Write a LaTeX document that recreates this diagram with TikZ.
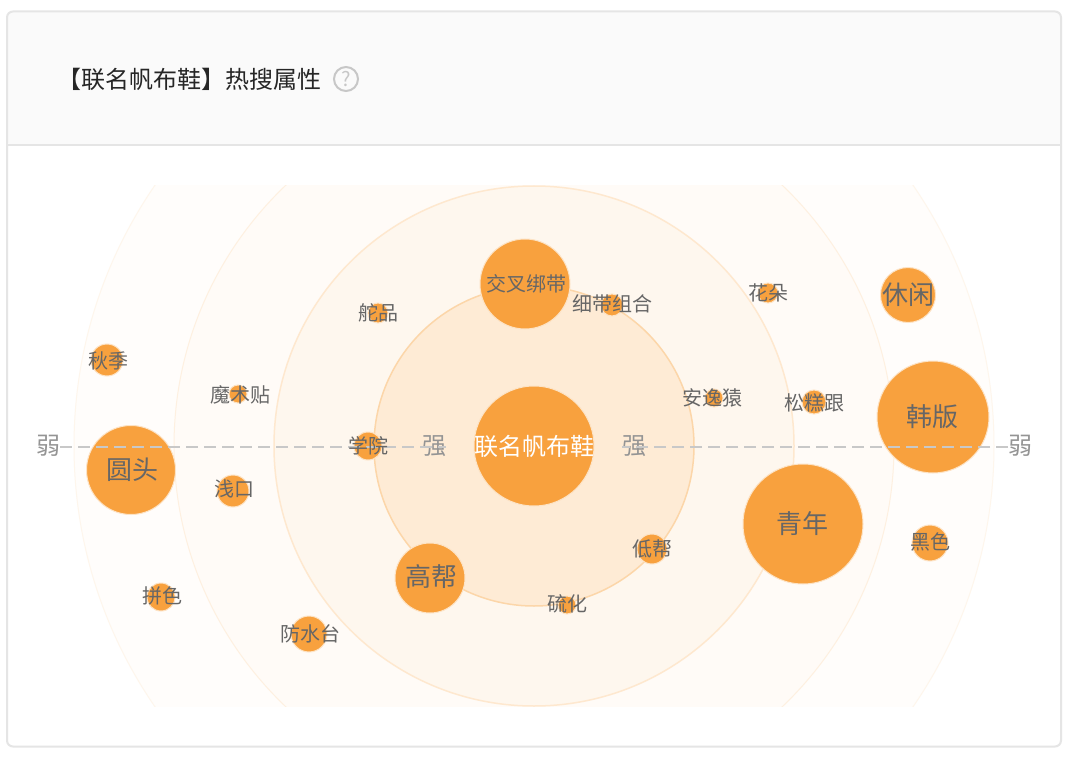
\documentclass[tikz,border=0pt]{standalone}
\usepackage{fontspec}
\usepackage{xcolor}
\setmainfont{Noto Sans CJK SC}
\definecolor{bub}{RGB}{248, 161, 62}
\definecolor{lab}{RGB}{102, 102, 102}
\definecolor{edg}{RGB}{229, 229, 229}
\definecolor{hdr}{RGB}{250, 250, 250}
\definecolor{rng}{RGB}{249, 163, 64}
\definecolor{das}{RGB}{200, 200, 200}
\tikzset{
  bubble/.style={circle, fill=bub, draw=bub!30, line width=1pt, inner sep=0pt, minimum size=#1*2pt},
  word/.style={text=lab, font=\fontsize{20pt}{20pt}\selectfont, inner sep=0pt},
  bigword/.style={text=lab, font=\fontsize{26pt}{26pt}\selectfont, inner sep=0pt},
  axisword/.style={text=lab!70, font=\fontsize{24pt}{24pt}\selectfont, inner sep=0pt},
  px/.style={x=1pt, y=-1pt}
}
\begin{document}
\begin{tikzpicture}[px]
      \useasboundingbox (0, 0) rectangle (1069, 757);
      \fill[white] (0, 0) rectangle (1069, 757);
      \begin{scope}
      \clip (0, 186) rectangle (1069, 706);
      \draw[fill=rng!2, draw=rng!10, line width=1pt] (534, 446) circle (460);
      \draw[fill=rng!4, draw=rng!16, line width=1pt] (534, 446) circle (360);
      \draw[fill=rng!9, draw=rng!25, line width=1.5pt] (534, 446) circle (260);
      \draw[fill=rng!22, draw=rng!45, line width=1.5pt] (534, 446) circle (160);
      \end{scope}
      \fill[hdr] (7, 145) -- (1061, 145) [rounded corners=6] -- (1061, 11.5) -- (7, 11.5) -- cycle;
      \draw[color=edg, line width=2pt, rounded corners=6] (7, 11.5) rectangle (1061, 746.5);
      \draw[color=edg, line width=2pt] (7, 145)--(1061, 145);
      \node[anchor=west, inner sep=0pt, text=black!85, font=\fontsize{24pt}{24pt}\selectfont] (title) at (57, 79) {【联名帆布鞋】热搜属性};
      \node[circle, draw=black!22, line width=2pt, minimum size=24pt, inner sep=0pt, text=black!22, font=\fontsize{20pt}{20pt}\selectfont] (help) at (346, 79) {?};
      \node[bubble=60] (main) at (534, 446) {};
      \node[bubble=45] (b1) at (525, 284) {};
      \node[bubble=11] (b2) at (612, 305) {};
      \node[bubble=10] (b3) at (378, 313) {};
      \node[bubble=10] (b4) at (768, 293) {};
      \node[bubble=27.5] (b5) at (908, 295) {};
      \node[bubble=16] (b6) at (107, 360) {};
      \node[bubble=9] (b7) at (238, 394) {};
      \node[bubble=14] (b8) at (368, 446) {};
      \node[bubble=9] (b9) at (714, 398) {};
      \node[bubble=12] (b10) at (814, 402) {};
      \node[bubble=56] (b11) at (933, 417) {};
      \node[bubble=44.5] (b12) at (131, 470) {};
      \node[bubble=16] (b13) at (233, 491) {};
      \node[bubble=60] (b14) at (803, 524) {};
      \node[bubble=18] (b15) at (930, 543) {};
      \node[bubble=15] (b16) at (652, 549) {};
      \node[bubble=35] (b17) at (430, 578) {};
      \node[bubble=9] (b18) at (567, 605) {};
      \node[bubble=14] (b19) at (161, 597) {};
      \node[bubble=18] (b20) at (309, 634) {};
      \node[axisword] (s1) at (434, 446) {强};
      \node[axisword] (s2) at (634, 446) {强};
      \node[axisword] (w1) at (48, 446) {弱};
      \node[axisword] (w2) at (1020, 446) {弱};
      \coordinate (l1) at (60, 447);
      \coordinate (l2) at (446, 447);
      \coordinate (r1) at (1008, 447);
      \coordinate (r2) at (622, 447);
      \draw[color=das, line width=2.7pt, dash pattern=on 12pt off 6pt] (l1)--(l2);
      \draw[color=das, line width=2.7pt, dash pattern=on 12pt off 6pt] (r1)--(r2);
      \node[text=white, inner sep=0pt, font=\fontsize{24pt}{24pt}\selectfont] (t0) at (534, 446) {联名帆布鞋};
      \node[word] (t1) at (526, 284) {交叉绑带};
      \node[word] (t2) at (612, 304) {细带组合};
      \node[word] (t3) at (378, 313) {舵品};
      \node[word] (t4) at (768, 293) {花朵};
      \node[bigword] (t5) at (908, 295) {休闲};
      \node[word] (t6) at (108, 361) {秋季};
      \node[word] (t7) at (240, 395) {魔术贴};
      \node[word] (t8) at (368, 446) {学院};
      \node[word] (t9) at (712, 398) {安逸猿};
      \node[word] (t10) at (814, 403) {松糕跟};
      \node[bigword] (t11) at (932, 417) {韩版};
      \node[bigword] (t12) at (132, 470) {圆头};
      \node[word] (t13) at (234, 489) {浅口};
      \node[bigword] (t14) at (802, 524) {青年};
      \node[word] (t15) at (930, 542) {黑色};
      \node[word] (t16) at (652, 549) {低帮};
      \node[bigword] (t17) at (431, 577) {高帮};
      \node[word] (t18) at (567, 604) {硫化};
      \node[word] (t19) at (162, 596) {拼色};
      \node[word] (t20) at (310, 634) {防水台};
\end{tikzpicture}
\end{document}
